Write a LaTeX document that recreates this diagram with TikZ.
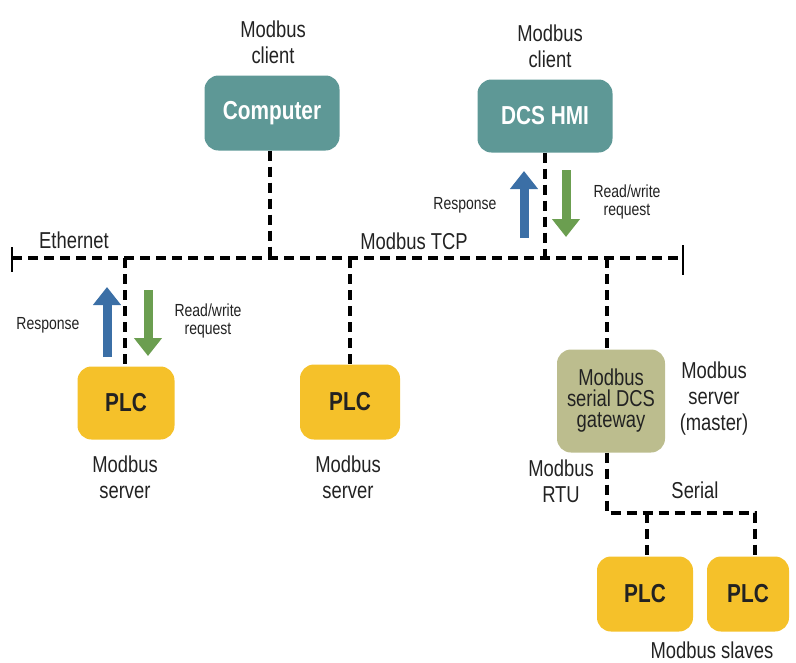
\documentclass[tikz,border=0pt]{standalone}
\usepackage{fontspec}
\setmainfont[FakeStretch=0.8]{Liberation Sans}
\usetikzlibrary{arrows.meta}
\definecolor{tealbox}{HTML}{5E9896}
\definecolor{plcyellow}{HTML}{F5C12A}
\definecolor{gateolive}{HTML}{BCBD8E}
\definecolor{arrblue}{HTML}{3B6FA6}
\definecolor{arrgreen}{HTML}{6B9E50}
\definecolor{txt}{HTML}{222222}
\tikzset{
  client/.style={rounded corners=14pt, fill=tealbox, text=white, font=\fontsize{26}{28}\selectfont\bfseries, inner sep=0pt},
  plcbox/.style={rounded corners=14pt, fill=plcyellow, text=txt, font=\fontsize{26}{28}\selectfont\bfseries, inner sep=0pt},
  gatebox/.style={rounded corners=14pt, fill=gateolive, text=txt, font=\fontsize{23}{24}\selectfont, align=center, inner sep=0pt},
  lbl/.style={text=txt, font=\fontsize{23}{26}\selectfont, align=center, inner sep=0pt},
  small/.style={text=txt, font=\fontsize{17.5}{24}\selectfont, align=center, inner sep=0pt},
  net/.style={line width=3.4pt, dash pattern=on 10pt off 6pt, black},
  endtick/.style={line width=1.8pt, black},
  uparr/.style={line width=9pt, arrblue, -{Triangle[width=27pt,length=18pt]}},
  downarr/.style={line width=9pt, arrgreen, -{Triangle[width=27pt,length=18pt]}},
}
\begin{document}
\begin{tikzpicture}[x=1pt,y=-1pt]
\useasboundingbox (0,0) rectangle (796,662);
% boxes
\node[client, minimum width=135pt, minimum height=75pt] (comp) at (272,113) {Computer};
\node[client, minimum width=135pt, minimum height=73pt] (dcs) at (545,116) {DCS HMI};
\node[plcbox, minimum width=97pt, minimum height=73pt] (plc1) at (126,403) {PLC};
\node[plcbox, minimum width=100pt, minimum height=75pt] (plc2) at (350,402) {PLC};
\node[gatebox, minimum width=108pt, minimum height=103pt] (gw) at (611,401) {Modbus\\[-3pt]serial DCS\\[-3pt]gateway};
\node[plcbox, minimum width=96pt, minimum height=75pt] (plc3) at (645,594) {PLC};
\node[plcbox, minimum width=82pt, minimum height=75pt] (plc4) at (748,594) {PLC};
% labels
\node[lbl] (l1) at (273,42) {Modbus\\client};
\node[lbl] (l2) at (550,46) {Modbus\\client};
\node[lbl] (l3) at (125,477) {Modbus\\server};
\node[lbl] (l4) at (348,477) {Modbus\\server};
\node[lbl] (l5) at (714,399) {Modbus\\server\\(master)};
\node[lbl] (l6) at (561,481) {Modbus\\RTU};
\node[lbl] (l7) at (695,490) {Serial};
\node[lbl] (l8) at (712,650) {Modbus slaves};
\node[lbl] (eth) at (74,240) {Ethernet};
\node[lbl] (tcp) at (414,241) {Modbus TCP};
\node[small] (r1) at (48,325) {Response};
\node[small] (q1) at (208,321) {Read/write\\[-6pt]request};
\node[small] (r2) at (465,205) {Response};
\node[small] (q2) at (627,202) {Read/write\\[-6pt]request};
% bus
\coordinate (busL) at (12,258);
\coordinate (busR) at (683,258);
\draw[net] (busL) -- (busR);
\draw[endtick] (12,247) -- (12,272);
\draw[endtick] (683,245) -- (683,275);
% drops
\coordinate (jc) at (270,258);
\coordinate (jd) at (545,258);
\coordinate (j1) at (125,258);
\coordinate (j2) at (350,258);
\coordinate (jg) at (607,258);
\draw[net] (comp.south -| jc) -- (jc);
\draw[net] (dcs.south -| jd) -- (jd);
\draw[net] (j1) -- (plc1.north -| j1);
\draw[net] (j2) -- (plc2.north -| j2);
\draw[net] (jg) -- (gw.north -| jg);
% serial
\coordinate (s0) at (607,513);
\coordinate (s1) at (647,513);
\coordinate (s2) at (755,513);
\draw[net] (gw.south -| s0) -- (s0) -- (s2) -- (plc4.north -| s2);
\draw[net] (s1) -- (plc3.north -| s1);
% arrows
\coordinate (a1s) at (107,357);
\coordinate (a1e) at (107,287);
\coordinate (b1s) at (148,290);
\coordinate (b1e) at (148,356);
\draw[uparr] (a1s) -- (a1e);
\draw[downarr] (b1s) -- (b1e);
\coordinate (a2s) at (524,238);
\coordinate (a2e) at (524,171);
\coordinate (b2s) at (566,170);
\coordinate (b2e) at (566,237);
\draw[uparr] (a2s) -- (a2e);
\draw[downarr] (b2s) -- (b2e);
\end{tikzpicture}
\end{document}
